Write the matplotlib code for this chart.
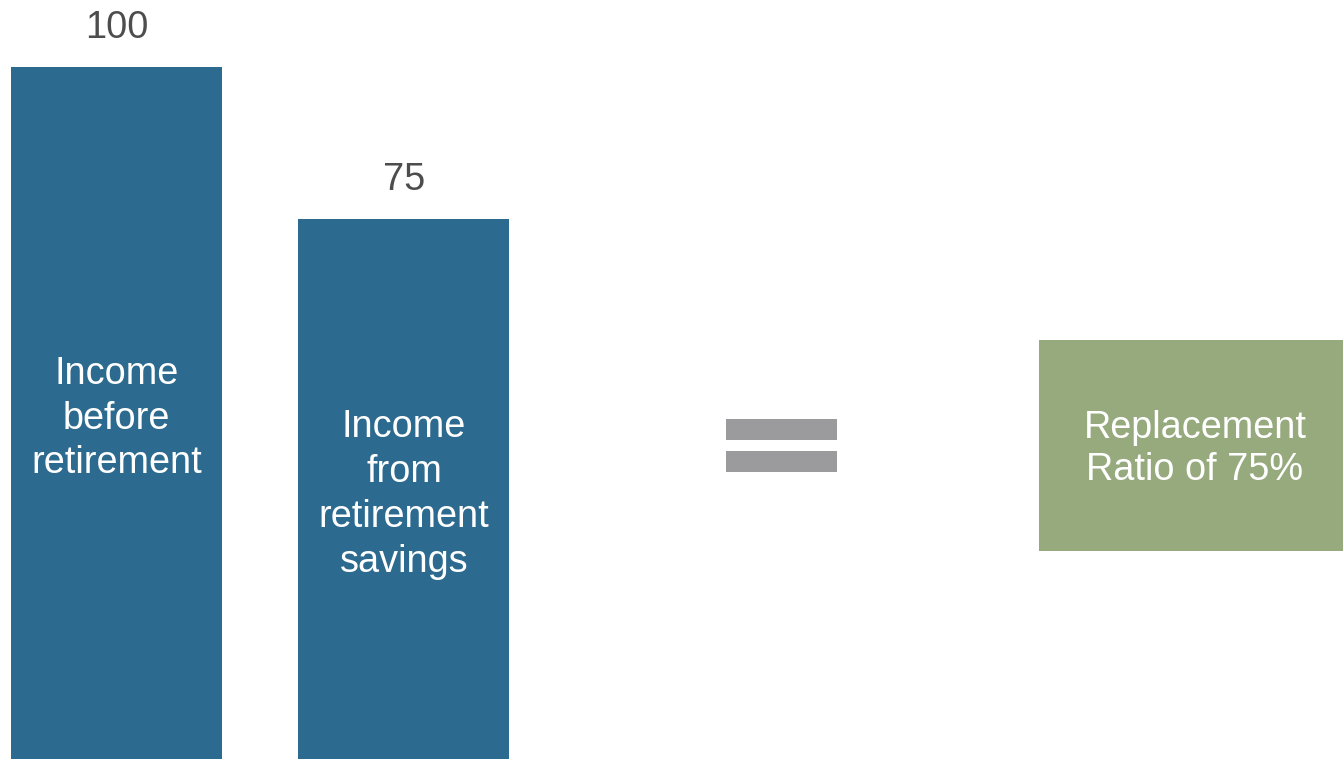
"""
Replacement ratio illustration: two income bars = one green result box
"""

import matplotlib.pyplot as plt
from matplotlib.patches import Rectangle

plt.rcParams.update({
    'font.family': ['Liberation Sans', 'DejaVu Sans'],
})

# ── data ─────────────────────────────────────────────────────
categories = ['Income\nbefore\nretirement', 'Income\nfrom\nretirement\nsavings']
values = [100, 75]
result_text = 'Replacement\nRatio of 75%'

# ── colours ──────────────────────────────────────────────────
C_BAR = '#2D6A8F'
C_BOX = '#96AA7E'
C_EQ = '#9B9B9D'
C_LABEL = '#4D4D4D'

W, H = 1343, 759
FS = 27.3
LS = 1.32
Y_MIN, Y_MAX = -13.8, 111.0

fig = plt.figure(figsize=(W / 100, H / 100), dpi=100)
ax = fig.add_axes([0, 0, 1, 1])
ax.set_xlim(-0.405, 4.266)
ax.set_ylim(Y_MIN, Y_MAX)
ax.axis('off')

# ── bars ─────────────────────────────────────────────────────
xs = list(range(len(values)))
heights = [v - Y_MIN for v in values]
ax.bar(xs, heights, bottom=Y_MIN, width=0.734, color=C_BAR, zorder=2)

for x, v, lab in zip(xs, values, categories):
    ax.annotate(str(v), (x, v), xytext=(0, 28), textcoords='offset points',
                ha='center', va='center', fontsize=FS, color=C_LABEL)
    ax.annotate(lab, (x, (v + Y_MIN) / 2), xytext=(0, -4), textcoords='offset points',
                ha='center', va='center', fontsize=FS, color='white',
                linespacing=LS, zorder=3)

# ── equals sign (pixel positions -> axes fraction) ───────────
def px_rect(x0, y0, x1, y1, color):
    ax.add_patch(Rectangle((x0 / W, 1 - y1 / H), (x1 - x0) / W, (y1 - y0) / H,
                           transform=ax.transAxes, color=color, lw=0, zorder=2))

px_rect(726, 419, 837, 440, C_EQ)
px_rect(726, 451, 837, 472, C_EQ)

# ── result box ───────────────────────────────────────────────
px_rect(1039, 340, 1343, 551, C_BOX)
ax.text((1039 + 1343) / 2 / W + 0.003, 1 - 449 / H, result_text,
        transform=ax.transAxes, ha='center', va='center',
        fontsize=FS, color='white', linespacing=LS - 0.12, zorder=3)

fig.savefig('out.png', dpi=100, facecolor='white')
plt.close(fig)
